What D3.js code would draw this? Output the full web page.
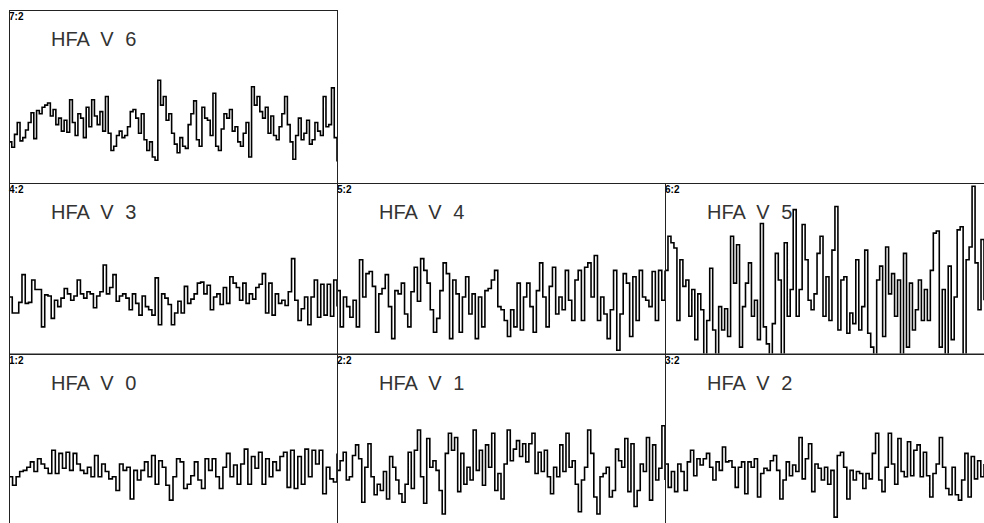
<!DOCTYPE html>
<html>
<head>
<meta charset="utf-8">
<script src="https://cdn.jsdelivr.net/npm/d3@7"></script>
<style>
  body { margin: 0; background: #fff; }
  svg { display: block; }
  .title { font-family: "Liberation Sans", Arial, sans-serif; font-size: 20px; word-spacing: 6px; fill: #333; }
  .tag { font-family: "Liberation Sans", Arial, sans-serif; font-size: 10px; font-weight: bold; fill: #000; }
  .frame { fill: none; stroke: #222; stroke-width: 1; }
  .trace { fill: none; stroke: #000; stroke-width: 1.6; }
</style>
</head>
<body>
<div class="container"></div>
<script>
// channel traces, amplitude units
const hfaV0 = [-6,-14,-6,-1,0,3,8,-1,11,6,2,-3,19,-3,16,2,17,0,16,6,0,-3,3,-6,14,-6,6,-1,-8,-6,-19,6,0,3,-27,0,-9,0,8,-6,14,-13,9,3,-14,-28,-6,11,8,-17,-13,-5,8,-9,-17,11,0,11,-6,-17,3,16,-6,5,-13,6,20,-13,13,2,17,-13,11,-6,8,0,13,17,-16,19,-17,13,-13,20,-6,19,6,19,-22,3,-8,-11,16]
const hfaV1 = [0,9,17,-9,-6,14,24,11,-30,3,25,-6,-23,-13,-19,-1,-27,13,3,-9,-22,-30,-13,17,-17,19,38,-6,-31,30,3,9,0,-19,-41,16,35,19,31,-20,16,-13,3,-9,38,0,19,-14,24,3,35,-19,-3,-27,6,38,9,20,28,13,25,8,25,35,-3,17,-1,19,-6,-22,3,-6,24,-1,35,3,9,-13,-39,-9,3,38,16,-25,-41,-6,-3,3,-25,-19,20,9,3,30,-20,25,-34,-19,6,-1,31,-28,24,-9,2,42,-9]
const hfaV2 = [6,-16,-1,-20,6,-1,-19,8,19,-5,11,5,11,16,3,-9,8,0,22,8,9,3,-16,3,8,-22,8,3,11,-25,-3,2,0,9,14,0,-27,-9,8,-5,5,-1,31,-8,11,25,-20,6,2,-9,3,-13,0,-44,14,17,3,-27,0,-9,-1,-3,-17,-3,-8,16,35,-9,-20,3,35,6,-13,30,-1,-6,27,-5,19,24,-6,17,-5,-25,-3,6,31,3,-17,-23,3,-23,-28,-9,16,-25,13,-8,9,-6,6]
const hfaV3 = [3,-12,-12,-2,24,-3,-2,19,10,10,-25,5,4,-17,0,-6,2,11,6,0,4,19,6,2,8,6,-7,4,8,33,6,12,24,-1,4,6,2,-9,6,-3,-14,4,-6,-9,-14,21,-23,6,2,-4,-23,-12,-1,-12,13,-3,1,6,16,17,6,14,-9,3,6,-4,12,-3,22,16,12,0,16,-3,6,1,12,15,25,-12,16,-14,6,-3,0,-5,8,39,0,-19,-8,3,-23,3,19,-16,15,-14,15,-15,19,-6]
const hfaV4 = [9,-25,3,-6,-16,0,-25,38,3,25,27,13,-30,6,11,24,-6,-36,9,6,16,-13,-25,8,31,-1,39,28,16,-9,-30,-17,9,35,25,-36,19,6,-30,3,22,-13,6,-36,3,-25,9,11,19,28,-6,-9,-19,-34,-9,-25,16,-28,3,16,-6,-30,9,35,3,-25,13,31,-13,3,-9,28,0,-19,19,28,-19,31,35,3,42,-19,3,-13,-36,-9,28,-47,-13,25,16,-34,22,-19,28,3,0,-6,27,-19,28,0,28]
const hfaV5 = [28,60,54,49,-19,38,13,19,-15,10,-37,6,-9,-58,-19,30,-28,-58,-6,-28,-8,-34,60,16,52,-44,-6,16,35,-15,0,-37,72,-25,-41,-58,-22,44,19,-58,54,-15,10,85,-15,10,71,38,0,-9,6,44,60,-15,22,-19,47,88,-28,19,22,-31,-12,-22,38,-28,-6,47,-31,-44,-58,19,32,-34,50,6,25,-15,19,-58,44,-44,16,-28,-9,19,-19,10,-19,28,63,65,-44,10,-58,32,-37,3,66,69,-58,38,50,107,35,-9,57,0]
const hfaV6 = [-12,-17,-5,6,-11,-8,-1,6,15,-9,17,14,20,22,24,12,18,4,10,-2,8,-3,27,6,-6,14,10,-8,20,2,27,12,4,16,-2,30,-4,-20,-16,-6,-2,-8,-6,2,16,18,10,-4,14,-10,-20,-12,-26,-29,45,22,30,8,14,-4,-14,-22,-8,-16,-18,4,14,26,-10,-16,20,10,8,-6,33,-16,-20,0,14,10,18,-2,2,-12,-16,-4,6,-26,39,22,30,16,10,20,-4,12,-6,-10,2,14,30,4,-12,-28,-6,10,-10,-4,8,-14,-10,6,-2,-6,30,2,4,38,-8,-30]

const panelTitles = ['HFA V 6', 'HFA V 3', 'HFA V 4', 'HFA V 5', 'HFA V 0', 'HFA V 1', 'HFA V 2']
const panelTags = ['7:2', '4:2', '5:2', '6:2', '1:2', '2:2', '3:2']
const panelSeries = [hfaV6, hfaV3, hfaV4, hfaV5, hfaV0, hfaV1, hfaV2]
const panelRow = [0, 1, 1, 1, 2, 2, 2]
const panelCol = [0, 0, 1, 2, 0, 1, 2]
const ampDomain = [-50, 110]

const width = 984, height = 523
const colLeft = [9, 337, 665], cellW = 328
const rowTop = [10, 183, 353.5], rowH = [173, 170.5, 170]

const svg = d3.select('.container').append('svg')
    .attr('width', width)
    .attr('height', height)

panelSeries.forEach((series, k) => {
    const x0 = colLeft[panelCol[k]], y0 = rowTop[panelRow[k]], h = rowH[panelRow[k]]
    const w = Math.min(cellW, width - x0)

    const x = d3.scaleLinear().domain([0, series.length - 1]).range([x0, x0 + w])
    const y = d3.scaleLinear().domain(ampDomain).range([y0 + h, y0])

    const g = svg.append('g').attr('class', 'panel')

    g.append('clipPath')
        .attr('id', 'clip' + k)
        .append('rect')
        .attr('x', x0).attr('y', y0)
        .attr('width', w).attr('height', h)

    // labels go under the trace
    g.append('text')
        .attr('class', 'tag')
        .attr('x', x0)
        .attr('y', y0 + 10)
        .text(panelTags[k])

    g.append('text')
        .attr('class', 'title')
        .attr('x', x0 + 42)
        .attr('y', y0 + 36)
        .attr('xml:space', 'preserve')
        .text(panelTitles[k])

    // step trace
    const line = d3.line()
        .x((d, i) => x(i))
        .y(d => y(d))
        .curve(d3.curveStepAfter)

    g.append('path')
        .datum(series)
        .attr('class', 'trace')
        .attr('clip-path', `url(#clip${k})`)
        .attr('d', line)

    //frame
    g.append('rect')
        .attr('class', 'frame')
        .attr('x', Math.round(x0) + 0.5)
        .attr('y', Math.round(y0) + 0.5)
        .attr('width', cellW)
        .attr('height', h)
})
</script>
</body>
</html>
